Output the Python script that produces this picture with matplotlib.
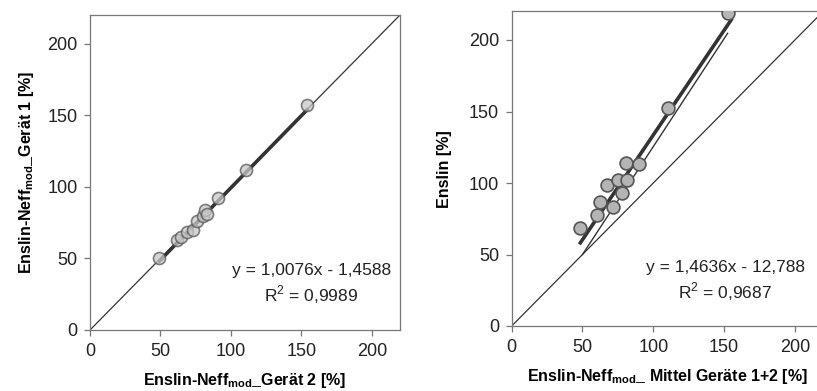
import numpy as np, matplotlib
matplotlib.use("Agg"); import matplotlib.pyplot as plt

# left: Gerät 2 (x) vs Gerät 1 (y)
g2 = [49.2, 61.5, 64.5, 68.6, 73.3, 75.7, 80.4, 81.6, 83.0, 91.0, 111.0, 154.0]
g1 = [50.2, 63.0, 65.0, 68.4, 70.0, 75.8, 79.3, 84.0, 81.0, 92.2, 112.0, 156.9]
fit_l = (1.0076, -1.4588); r2_l = 0.9989

# right: Mittel Geräte 1+2 (x) vs Enslin (y)
mit = [48.5, 60.0, 62.4, 67.0, 71.3, 74.9, 77.7, 81.2, 80.7, 90.1, 110.6, 153.0]
ens = [68.3, 77.6, 86.9, 98.6, 83.4, 102.0, 92.8, 102.0, 113.8, 113.0, 152.2, 219.0]
fit_r = (1.4636, -12.788); r2_r = 0.9687
thin_x = [50, 152.5]; thin_y = [50, 204.7]

INK = "#333333"; EDGE = "#555555"; FILL = "#b4b4b4"
plt.rcParams.update({"font.family": "Liberation Sans", "font.size": 13,
                     "axes.edgecolor": "#777777", "axes.linewidth": 0.9,
                     "xtick.color": "#777777", "ytick.color": "#777777",
                     "xtick.labelcolor": "#222222", "ytick.labelcolor": "#222222",
                     "mathtext.fontset": "custom", "mathtext.bf": "Liberation Sans:bold",
                     "mathtext.rm": "Liberation Sans"})
fig = plt.figure(figsize=(8.17, 3.91), dpi=100)
a1 = fig.add_axes([90/817, 61/391, 310/817, 315/391])
a2 = fig.add_axes([511.7/817, 65/391, 311.5/817, 314.6/391])

def base(a):
    a.set_xlim(0, 220); a.set_ylim(0, 220)
    a.set_xticks([0, 50, 100, 150, 200]); a.set_yticks([0, 50, 100, 150, 200])
    a.tick_params(direction="out", length=4, width=0.9, labelsize=13, pad=5)
    a.plot([0, 230], [0, 230], color=INK, lw=0.9)

base(a1)
xs = np.array([min(g2), max(g2)])
a1.plot(xs, fit_l[0]*xs + fit_l[1], color=INK, lw=2.6)
a1.scatter(g2, g1, s=75, facecolor="#c8c8c8", edgecolor=EDGE, lw=1.2, alpha=0.75, zorder=3)
a1.text(157, 17, f"y = 1,0076x - 1,4588\nR$^2$ = 0,9989", ha="center", va="bottom",
        multialignment="center", fontsize=12.5, linespacing=1.3, color="#222222")
a1.set_xlabel(r"Enslin-Neff$_{\mathbf{mod}}$_Gerät 2 [%]", fontweight="bold", fontsize=11.5, labelpad=8)
a1.set_ylabel(r"Enslin-Neff$_{\mathbf{mod}}$_Gerät 1 [%]", fontweight="bold", fontsize=11.5, labelpad=8)

base(a2)
xs = np.array([min(mit), max(mit) + 2])
a2.plot(thin_x, thin_y, color=INK, lw=1.0)
a2.plot(xs, fit_r[0]*xs + fit_r[1], color=INK, lw=2.6)
a2.scatter(mit, ens, s=85, facecolor=FILL, edgecolor=EDGE, lw=1.2, zorder=3)
a2.text(151, 16, f"y = 1,4636x - 12,788\nR$^2$ = 0,9687", ha="center", va="bottom",
        multialignment="center", fontsize=12.5, linespacing=1.3, color="#222222")
a2.set_xlabel(r"Enslin-Neff$_{\mathbf{mod}}$_ Mittel Geräte 1+2 [%]", fontweight="bold", fontsize=11.5, labelpad=8)
a2.set_ylabel("Enslin [%]", fontweight="bold", fontsize=11.5, labelpad=12)

plt.savefig("out.png", dpi=100)
